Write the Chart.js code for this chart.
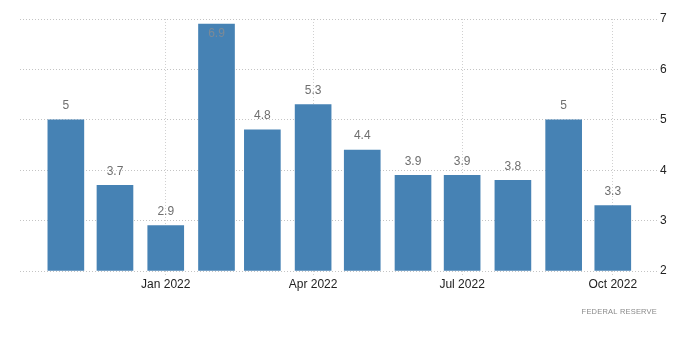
<!DOCTYPE html>
<html>
<head>
<meta charset="utf-8">
<script src="https://cdn.jsdelivr.net/npm/chart.js@4/dist/chart.umd.min.js"></script>
<style>
html,body{margin:0;padding:0;background:#fff;}
#wrap{width:700px;height:358px;position:relative;}
</style>
</head>
<body>
<div id="wrap"><canvas id="c" width="700" height="358"></canvas></div>
<script>
const months = ['2021-11','2021-12','2022-01','2022-02','2022-03','2022-04','2022-05','2022-06','2022-07','2022-08','2022-09','2022-10'];
const values = [5, 3.7, 2.9, 6.9, 4.8, 5.3, 4.4, 3.9, 3.9, 3.8, 5, 3.3];
const tickMonths = ['2022-01','2022-04','2022-07','2022-10'];
const tickLabels = ['Jan 2022','Apr 2022','Jul 2022','Oct 2022'];
const yTicks = [2, 3, 4, 5, 6, 7];
const sourceText = 'FEDERAL RESERVE';

const DAY = 86400000;
function dayOf(m){
  const [y, mo] = m.split('-').map(Number);
  return (Date.UTC(y, mo - 1, 1) - Date.UTC(2021, 10, 1)) / DAY;
}
const points = months.map((m, i) => ({x: dayOf(m), y: values[i]}));
const tickVals = tickMonths.map(dayOf);

const FONT = "'Liberation Sans', Arial, sans-serif";

const labelPlugin = {
  id: 'valLabels',
  afterDatasetsDraw(chart){
    const ctx = chart.ctx;
    const meta = chart.getDatasetMeta(0);
    ctx.save();
    ctx.font = '12px ' + FONT;
    ctx.textAlign = 'center';
    ctx.textBaseline = 'middle';
    meta.data.forEach((bar, i) => {
      const v = values[i];
      let y = bar.y - 14;
      if (y < chart.chartArea.top) { y = bar.y + 10; ctx.fillStyle = '#7d8a96'; } else { ctx.fillStyle = '#6f6f6f'; }
      ctx.fillText(String(v), bar.x, y);
    });
    ctx.font = '7.5px ' + FONT;
    ctx.fillStyle = '#8a8a8a';
    ctx.textAlign = 'right';
    if ('letterSpacing' in ctx) ctx.letterSpacing = '0.2px';
    ctx.fillText(sourceText, 657, 312);
    ctx.restore();
  }
};

new Chart(document.getElementById('c'), {
  type: 'bar',
  data: {
    datasets: [{
      data: points,
      backgroundColor: '#4682b4',
      borderWidth: 0,
      barThickness: 36,
      base: 2
    }]
  },
  options: {
    responsive: false,
    animation: false,
    devicePixelRatio: 1,
    layout: {padding: {left: 20, top: 19, right: 11, bottom: 45}},
    plugins: {legend: {display: false}, tooltip: {enabled: false}},
    scales: {
      x: {
        type: 'linear',
        offset: false,
        min: -28,
        max: 361,
        afterBuildTicks(axis){ axis.ticks = tickVals.map(v => ({value: v})); },
        afterFit(axis){ axis.height = 42; },
        border: {display: false, dash: [1, 2]},
        grid: {
          offset: false,
          color: '#d0d0d0',
          tickLength: 6,
          tickBorderDash: [1, 2],
          tickColor: '#d0d0d0'
        },
        ticks: {
          autoSkip: false,
          maxRotation: 0,
          padding: 0,
          color: '#222',
          font: {family: FONT, size: 12},
          callback(v){ const i = tickVals.indexOf(v); return i >= 0 ? tickLabels[i] : ''; }
        }
      },
      y: {
        position: 'right',
        min: 2,
        max: 7,
        afterBuildTicks(axis){ axis.ticks = yTicks.map(v => ({value: v})); },
        afterFit(axis){ axis.width = 32; },
        border: {display: false, dash: [1, 2]},
        grid: {
          color: '#c4c4c4',
          drawTicks: false
        },
        ticks: {
          padding: 3,
          color: '#222',
          font: {family: FONT, size: 12}
        }
      }
    }
  },
  plugins: [labelPlugin]
});
</script>
</body>
</html>
